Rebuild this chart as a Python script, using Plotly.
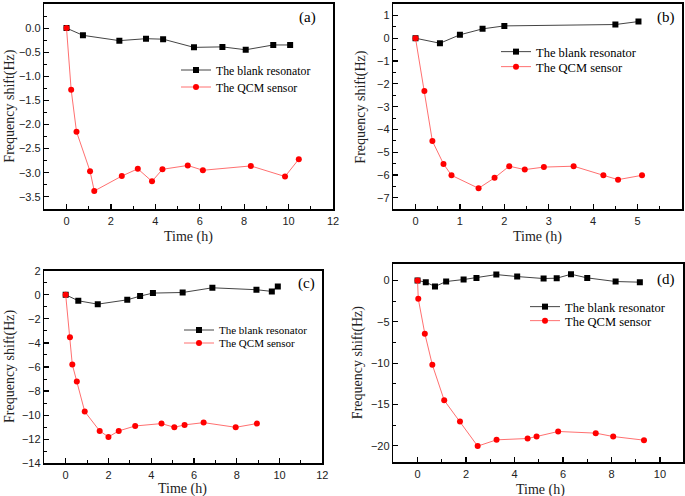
import plotly.graph_objects as go

# ---- data ----
a_blank_t = [0, 0.74, 2.38, 3.58, 4.35, 5.74, 7.02, 8.07, 9.31, 10.07]
a_blank_f = [0, -0.15, -0.26, -0.22, -0.23, -0.40, -0.39, -0.45, -0.35, -0.35]
a_qcm_t = [0, 0.21, 0.45, 1.06, 1.25, 2.49, 3.21, 3.85, 4.32, 5.46, 6.14, 8.30, 9.84, 10.46]
a_qcm_f = [0, -1.28, -2.15, -2.97, -3.38, -3.07, -2.92, -3.18, -2.93, -2.85, -2.95, -2.86, -3.08, -2.72]

b_blank_t = [0, 0.55, 1.0, 1.51, 2.0, 4.5, 5.02]
b_blank_f = [0, -0.22, 0.15, 0.41, 0.54, 0.60, 0.73]
b_qcm_t = [0, 0.20, 0.38, 0.63, 0.81, 1.42, 1.78, 2.11, 2.46, 2.89, 3.56, 4.23, 4.56, 5.10]
b_qcm_f = [0, -2.31, -4.51, -5.51, -6.01, -6.58, -6.12, -5.61, -5.76, -5.65, -5.61, -6.01, -6.20, -6.01]

c_blank_t = [0, 0.59, 1.5, 2.88, 3.48, 4.08, 5.47, 6.86, 8.92, 9.64, 9.92]
c_blank_f = [0, -0.50, -0.78, -0.42, -0.11, 0.14, 0.19, 0.58, 0.42, 0.28, 0.69]
c_qcm_t = [0, 0.20, 0.31, 0.52, 0.89, 1.59, 2.0, 2.48, 3.25, 4.48, 5.08, 5.56, 6.45, 7.95, 8.94]
c_qcm_f = [0, -3.52, -5.8, -7.21, -9.70, -11.31, -11.81, -11.31, -10.90, -10.70, -11.01, -10.81, -10.62, -11.01, -10.70]

d_blank_t = [0, 0.34, 0.72, 1.18, 1.90, 2.43, 3.25, 4.11, 5.2, 5.74, 6.33, 7.0, 8.17, 9.17]
d_blank_f = [0, -0.2, -0.72, -0.12, 0.12, 0.32, 0.72, 0.48, 0.24, 0.28, 0.76, 0.32, -0.12, -0.2]
d_qcm_t = [0, 0.03, 0.30, 0.61, 1.10, 1.75, 2.48, 3.26, 4.54, 4.91, 5.80, 7.35, 8.07, 9.34]
d_qcm_f = [0, -2.21, -6.43, -10.2, -14.5, -17.07, -20.04, -19.28, -19.12, -18.88, -18.27, -18.47, -18.88, -19.32]

series_names = ["The blank resonator", "The QCM sensor"]
panel_labels = ["(a)", "(b)", "(c)", "(d)"]
x_title = "Time (h)"
y_title = "Frequency shift(Hz)"

panels = [
    (a_blank_t, a_blank_f, a_qcm_t, a_qcm_f),
    (b_blank_t, b_blank_f, b_qcm_t, b_qcm_f),
    (c_blank_t, c_blank_f, c_qcm_t, c_qcm_f),
    (d_blank_t, d_blank_f, d_qcm_t, d_qcm_f),
]

W, H = 685, 496
# pixel boxes: left, right, top, bottom
boxes = [
    (44.3, 333, 4, 209.3),
    (393.3, 682, 4, 209.3),
    (44.3, 322.3, 270.7, 463.3),
    (393.3, 683, 264, 462.3),
]
xranges = [[-1, 12], [-0.5, 6.0], [-1, 12], [-1, 10.95]]
yranges = [[-3.76, 0.5], [-7.5, 1.5], [-14, 2], [-22, 2]]
xdt = [2, 1, 2, 2]
ydt = [0.5, 1, 2, 5]
xtickfmt = ["d", "d", "d", "d"]
ytickfmt = [".1f", "d", "d", "d"]
# legend rows (px): x of legend left, y centre of each row
leg_x = [176, 496, 179, 525]
leg_rows = [(70, 87), (52, 67), (330, 343), (307, 321)]
leg_font = [11.8, 12.5, 11, 12.5]
lab_pos = [(307, 17), (666, 17), (306, 283), (666, 279)]
xtitle_pos = [(188, 237), (537, 237), (183, 489), (540, 490)]
ytitle_x = [10, 361, 10, 358]

fig = go.Figure()
serif = "Liberation Serif, Times New Roman, serif"
sans = "Liberation Sans, Arial, sans-serif"

layout = dict(
    template="none",
    width=W, height=H, margin=dict(l=0, r=0, t=0, b=0, autoexpand=False),
    paper_bgcolor="white", plot_bgcolor="white", showlegend=True,
    font=dict(family=serif, color="black"),
)
annotations = []
leg_idx = 0
for i, (bt, bf, qt, qf) in enumerate(panels):
    n = "" if i == 0 else str(i + 1)
    l, r, t, b = boxes[i]
    specs = [
        (bt, bf, series_names[0], "#444444", "square", "black"),
        (qt, qf, series_names[1], "#ff7070", "circle", "red"),
    ]
    for k, (xs, ys, nm, lc, sym, mc) in enumerate(specs):
        leg_idx += 1
        legname = "legend" if leg_idx == 1 else f"legend{leg_idx}"
        fig.add_trace(go.Scatter(
            x=xs, y=ys, mode="lines+markers", name=nm,
            xaxis="x" + n, yaxis="y" + n, legend=legname,
            line=dict(color=lc, width=1),
            marker=dict(symbol=sym, size=6, color=mc),
        ))
        layout[legname] = dict(
            x=leg_x[i] / W, y=1 - leg_rows[i][k] / H, xanchor="left", yanchor="middle",
            bgcolor="rgba(0,0,0,0)", borderwidth=0, itemwidth=30,
            font=dict(family=serif, size=leg_font[i], color="black"),
            tracegroupgap=0,
        )
    common = dict(
        showgrid=False, zeroline=False, showline=True, linecolor="black",
        linewidth=1.5, mirror=True, ticks="inside", ticklen=5, tickwidth=1.2,
        tickcolor="black", tickfont=dict(family=sans, size=11, color="#222"),
        automargin=False,
    )
    layout["xaxis" + n] = dict(
        common, domain=[l / W, r / W], range=xranges[i], anchor="y" + n,
        dtick=xdt[i], tick0=0, tickformat=xtickfmt[i],
        minor=dict(ticks="inside", ticklen=3, dtick=xdt[i] / 2, tick0=0,
                   tickcolor="black", tickwidth=1),
        linewidth=2,
    )
    layout["yaxis" + n] = dict(
        common, domain=[1 - b / H, 1 - t / H], range=yranges[i], anchor="x" + n,
        dtick=ydt[i], tick0=0, tickformat=ytickfmt[i],
        minor=dict(ticks="inside", ticklen=3, dtick=ydt[i] / 2, tick0=0,
                   tickcolor="black", tickwidth=1),
    )
    px, py = lab_pos[i]
    annotations.append(dict(
        x=px / W, y=1 - py / H, xref="paper", yref="paper", text=panel_labels[i],
        showarrow=False, font=dict(family=serif, size=15, color="black"),
        xanchor="center", yanchor="middle",
    ))
    tx, ty = xtitle_pos[i]
    annotations.append(dict(
        x=tx / W, y=1 - ty / H, xref="paper", yref="paper", text=x_title,
        showarrow=False, font=dict(family=serif, size=14, color="#222"),
        xanchor="center", yanchor="middle",
    ))
    annotations.append(dict(
        x=ytitle_x[i] / W, y=1 - ((t + b) / 2) / H, xref="paper", yref="paper",
        text=y_title, textangle=-90, showarrow=False,
        font=dict(family=serif, size=14, color="#222"),
        xanchor="center", yanchor="middle",
    ))

layout["annotations"] = annotations
fig.update_layout(**layout)
fig.write_html(
    "out.html",
    config={"displayModeBar": False, "staticPlot": True},
    post_script="document.body.style.margin='0';document.body.style.overflow='hidden';",
)
